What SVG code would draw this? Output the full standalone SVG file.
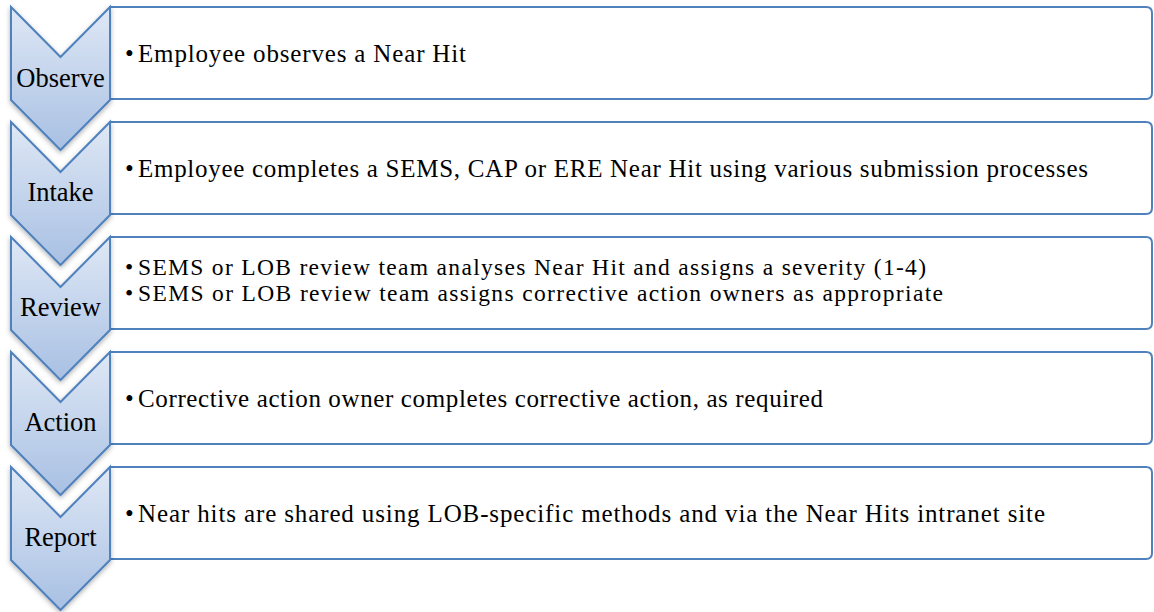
<svg xmlns="http://www.w3.org/2000/svg" width="1154" height="612" viewBox="0 0 1154 612">
  <defs>
    <linearGradient id="chevFill" x1="0" y1="0" x2="0" y2="1">
      <stop offset="0" stop-color="#dfe8f5"/>
      <stop offset="1" stop-color="#a8c0e3"/>
    </linearGradient>
    <filter id="soft" x="-20%" y="-20%" width="140%" height="150%">
      <feDropShadow dx="0" dy="2" stdDeviation="2.5" flood-color="#000" flood-opacity="0.3"/>
    </filter>
    <!-- one chevron step: width 99, notch/point depth 50 -->
    <path id="chev" d="M0,0 L49.5,50 L99,0 L99,93 L49.5,143 L0,93 Z"/>
    <!-- text panel with rounded right-hand corners -->
    <path id="panel" d="M0,0 H1036 Q1042,0 1042,6 V86 Q1042,92 1036,92 H0 Z"/>
  </defs>
  <style>
    .chev { fill: url(#chevFill); stroke: #4f81bd; stroke-width: 2; stroke-linejoin: miter; filter: url(#soft); }
    .panel { fill: #ffffff; stroke: #4f81bd; stroke-width: 2; }
    .label { font-family: "Liberation Serif", "Times New Roman", serif; font-size: 26.5px; fill: #000; text-anchor: middle; }
    .body { font-family: "Liberation Serif", "Times New Roman", serif; font-size: 25px; fill: #000; }
    .body.tight { font-size: 23.5px; }
  </style>

  <g id="step-report" transform="translate(11,467)">
    <use href="#panel" class="panel" x="99"/>
    <use href="#chev" class="chev"/>
    <text class="label" x="49.5" y="78.5">Report</text>
    <text class="body" x="114" y="55">•</text>
    <text class="body" x="127" y="55" textLength="907" lengthAdjust="spacing">Near hits are shared using LOB-specific methods and via the Near Hits intranet site</text>
  </g>

  <g id="step-action" transform="translate(11,352)">
    <use href="#panel" class="panel" x="99"/>
    <use href="#chev" class="chev"/>
    <text class="label" x="49.5" y="78.5">Action</text>
    <text class="body" x="114" y="55">•</text>
    <text class="body" x="127" y="55" textLength="685" lengthAdjust="spacing">Corrective action owner completes corrective action, as required</text>
  </g>

  <g id="step-review" transform="translate(11,237)">
    <use href="#panel" class="panel" x="99"/>
    <use href="#chev" class="chev"/>
    <text class="label" x="49.5" y="78.5">Review</text>
    <text class="body tight" x="114" y="37.5">•</text>
    <text class="body tight" x="127" y="37.5" textLength="788" lengthAdjust="spacing">SEMS or LOB review team analyses Near Hit and assigns a severity (1-4)</text>
    <text class="body tight" x="114" y="63.5">•</text>
    <text class="body tight" x="127" y="63.5" textLength="805" lengthAdjust="spacing">SEMS or LOB review team assigns corrective action owners as appropriate</text>
  </g>

  <g id="step-intake" transform="translate(11,122)">
    <use href="#panel" class="panel" x="99"/>
    <use href="#chev" class="chev"/>
    <text class="label" x="49.5" y="78.5">Intake</text>
    <text class="body" x="114" y="55">•</text>
    <text class="body" x="127" y="55" textLength="950" lengthAdjust="spacing">Employee completes a SEMS, CAP or ERE Near Hit using various submission processes</text>
  </g>

  <g id="step-observe" transform="translate(11,7)">
    <use href="#panel" class="panel" x="99"/>
    <use href="#chev" class="chev"/>
    <text class="label" x="49.5" y="79.5">Observe</text>
    <text class="body" x="114" y="55">•</text>
    <text class="body" x="127" y="55" textLength="328" lengthAdjust="spacing">Employee observes a Near Hit</text>
  </g>

  <g id="connectors"/>
</svg>
